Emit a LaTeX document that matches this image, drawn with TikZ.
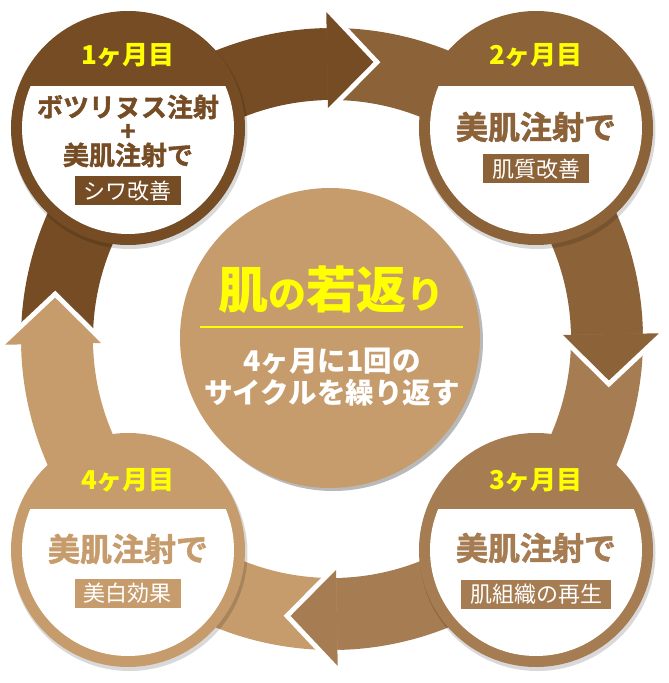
\documentclass[tikz,border=0pt]{standalone}
\usepackage{fontspec}
\newfontfamily\jp{Noto Sans CJK JP}
\newfontfamily\jpheavy{Noto Sans CJK JP Bold}[FakeBold=1.5]
\usetikzlibrary{positioning}
\definecolor{cone}{HTML}{754C24}
\definecolor{ctwo}{HTML}{8C6239}
\definecolor{cthree}{HTML}{A67C52}
\definecolor{cfour}{HTML}{C69C6D}
\definecolor{cyel}{HTML}{FFFF00}
\tikzset{
  disc/.style={circle, minimum size=234pt, inner sep=0pt},
  month/.style={text=cyel, inner sep=0pt, font=\jp\bfseries\fontsize{26}{26}\selectfont},
  mainlbl/.style={inner sep=0pt, align=center, font=\jpheavy\fontsize{32}{32}\selectfont},
  tagbox/.style={fill=#1, text=white, inner xsep=9pt, inner ysep=0pt, minimum height=29pt,
    font=\jp\fontsize{22}{22}\selectfont},
}
\begin{document}
\begin{tikzpicture}[x=1pt,y=1pt]
        \useasboundingbox (-332,-344) rectangle (337,339);
        % draw ring bands
        \foreach \s/\e/\col in {181/91/cone, 91/1/ctwo, 1/-89/cthree, -89/-179/cfour}
        \fill[\col] (\s:311) arc[start angle=\s, end angle={\e-1}, radius=311]
          -- ({\e-1}:239) arc[start angle={\e-1}, end angle=\s, radius=239] -- cycle;
        % draw arrow heads with white rim
        \foreach \e/\col in {91/cone, 1/ctwo, -89/cthree, -179/cfour}{
        \draw[white, line width=10pt, line join=miter] (\e:311) -- (\e:327) -- ({\e-9.5}:280) -- (\e:231) -- (\e:239);
        \fill[\col] (\e:327) -- ({\e-9.5}:280) -- (\e:231) -- cycle;
        }
        % draw month discs
        \foreach \i/\x/\y/\col in {1/-204/211/cone, 2/204/211/ctwo, 3/204/-211/cthree, 4/-204/-211/cfour}{
        \fill[black, opacity=.15] (\x+1.5,\y-3) circle (118);
        \node[disc, fill=\col] (c\i) at (\x,\y) {};
        \begin{scope}
        \clip (\x-120,\y-120) rectangle (\x+120,\y+41);
        \fill[white] (c\i.center) circle (106);
        \end{scope}
        }
        % draw centre disc
        \fill[gray!55] (1,-2) circle (150);
        \node[disc, minimum size=300pt, fill=cfour] (hub) at (-2,1) {};
        % draw month labels
        \node[month] (l1) at ([yshift=73pt]c1.center) {1ヶ月目};
        \node[month] (l2) at ([yshift=73pt]c2.center) {2ヶ月目};
        \node[month] (l3) at ([yshift=70pt]c3.center) {3ヶ月目};
        \node[month] (l4) at ([yshift=70pt]c4.center) {4ヶ月目};
        % draw treatments
        \node[mainlbl, text=cone, font=\jpheavy\fontsize{26}{24}\selectfont] (t1) at ([yshift=-3pt]c1.center) {ボツリヌス注射\\+\\美肌注射で};
        \node[mainlbl, text=ctwo] (t2) at ([yshift=1pt]c2.center) {美肌注射で};
        \node[mainlbl, text=cthree] (t3) at ([yshift=2pt]c3.center) {美肌注射で};
        \node[mainlbl, text=cfour] (t4) at ([yshift=1pt]c4.center) {美肌注射で};
        % draw effects
        \node[tagbox=cone] (e1) at ([yshift=-63pt]c1.center) {シワ改善};
        \node[tagbox=ctwo] (e2) at ([yshift=-41pt]c2.center) {肌質改善};
        \node[tagbox=cthree] (e3) at ([yshift=-44pt]c3.center) {肌組織の再生};
        \node[tagbox=cfour] (e4) at ([yshift=-43pt]c4.center) {美白効果};
        % draw centre texts
        \node[text=cyel, inner sep=0pt, font=\jp\bfseries] (title) at (0,49)
          {\fontsize{50}{50}\selectfont 肌\fontsize{38}{38}\selectfont の\fontsize{50}{50}\selectfont 若返\fontsize{38}{38}\selectfont り};
        \coordinate (rl) at (-132,12);
        \coordinate (rr) at (131,12);
        \draw[cyel, line width=2pt] (rl) -- (rr);
        \node[text=white, inner sep=0pt, align=center, font=\jp\bfseries\fontsize{28.5}{32}\selectfont] (cycle) at (0,-38)
          {4ヶ月に1回の\\サイクルを繰り返す};
\end{tikzpicture}
\end{document}
